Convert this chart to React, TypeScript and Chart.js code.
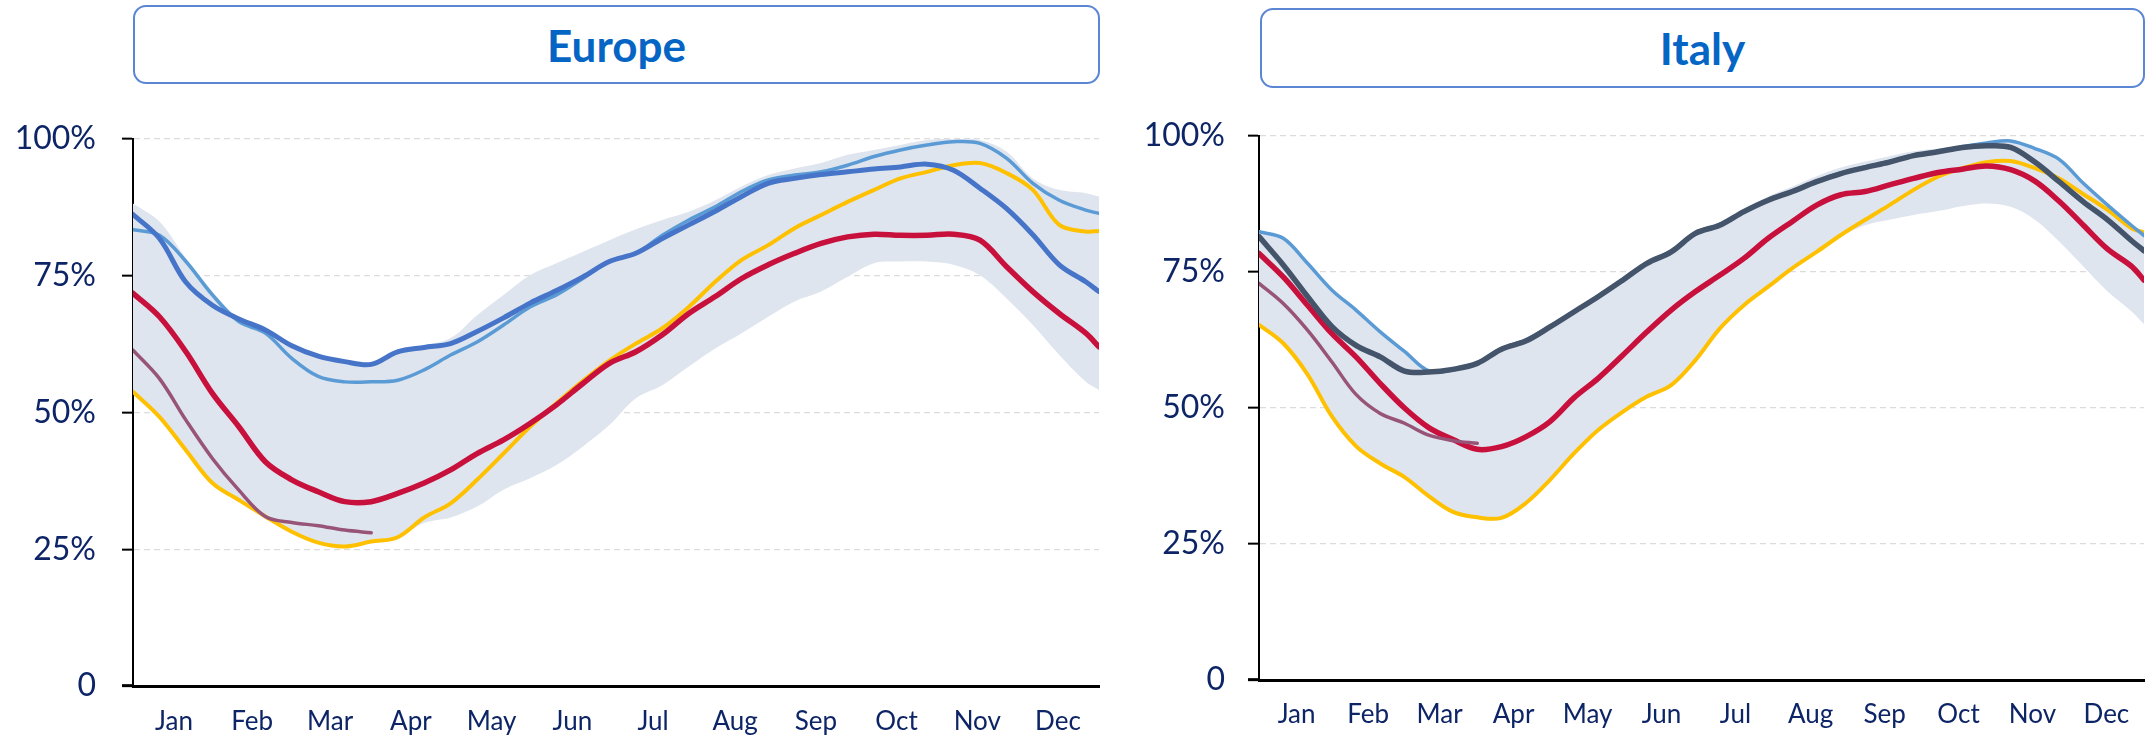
import React, { useEffect, useRef } from 'react';
import { Chart, registerables } from 'chart.js';

Chart.register(...registerables);

// ---------- shared axis data ----------
const DAYS = [0, 10, 20, 30, 40, 50, 60, 70, 80, 90, 100, 110, 120, 130, 140, 150, 160, 170, 180, 190,
  200, 210, 220, 230, 240, 250, 260, 270, 280, 290, 300, 310, 320, 330, 340, 350, 360, 365];
const MONTHS = ['Jan', 'Feb', 'Mar', 'Apr', 'May', 'Jun', 'Jul', 'Aug', 'Sep', 'Oct', 'Nov', 'Dec'];
const MONTH_MID = [15.5, 45, 74.5, 105, 135.5, 166, 196.5, 227.5, 258, 288.5, 319, 349.5];
const Y_TICKS = [0, 25, 50, 75, 100];

// ---------- Europe ----------
const euMax = [88.2, 84.9, 78.2, 72.1, 67.2, 65.1, 62.3, 60.5, 59.6, 59.2, 61.5, 62.3, 63.6, 67.8, 71.5, 75.1, 77.3, 79.4, 81.5, 83.5,
  85.2, 86.7, 88.8, 91.3, 93.4, 94.6, 95.6, 97.1, 98.0, 98.9, 99.8, 100.1, 99.8, 97.7, 92.8, 90.7, 90.1, 89.5];
const euMin = [53.6, 49.0, 42.9, 36.9, 33.8, 30.8, 28.0, 26.0, 25.3, 26.2, 27.2, 29.8, 30.8, 32.8, 35.9, 38.0, 40.4, 43.8, 47.7, 52.6,
  55.0, 58.4, 61.7, 64.5, 67.5, 70.3, 72.1, 74.8, 77.3, 77.6, 77.6, 77.0, 75.1, 70.9, 66.0, 60.5, 55.6, 54.1];
const euBlue = [86.2, 81.8, 73.8, 69.6, 67.1, 65.1, 62.2, 60.3, 59.3, 58.8, 61.1, 61.9, 62.6, 64.8, 67.3, 70.0, 72.3, 74.8, 77.6, 79.1,
  81.8, 84.3, 86.8, 89.5, 91.9, 92.8, 93.5, 94.0, 94.5, 94.9, 95.4, 94.3, 91.0, 87.3, 82.5, 77.0, 73.9, 72.1];
const euLightBlue = [83.4, 82.4, 77.6, 71.5, 66.6, 64.5, 59.9, 56.6, 55.6, 55.6, 55.9, 57.8, 60.5, 62.9, 66.0, 69.3, 71.5, 74.5, 77.6, 79.1,
  82.4, 85.2, 87.6, 90.4, 92.5, 93.4, 94.0, 95.2, 96.8, 98.0, 98.9, 99.5, 99.2, 96.5, 91.9, 88.8, 87.0, 86.4];
const euYellow = [53.8, 49.2, 43.1, 37.1, 34.0, 31.0, 28.2, 26.2, 25.5, 26.4, 27.2, 30.8, 33.4, 37.7, 42.5, 47.4, 51.7, 55.8, 59.5, 62.6,
  65.4, 69.3, 73.9, 77.9, 80.6, 83.7, 86.1, 88.5, 90.7, 92.8, 94.0, 95.2, 95.6, 93.8, 90.7, 84.3, 83.1, 83.2];
const euRed = [71.8, 67.5, 61.1, 53.5, 47.4, 41.0, 37.7, 35.5, 33.7, 33.7, 35.2, 37.1, 39.5, 42.5, 45.0, 48.0, 51.4, 55.3, 59.0, 61.1,
  64.2, 68.1, 71.2, 74.5, 77.0, 79.1, 80.9, 82.1, 82.6, 82.4, 82.4, 82.6, 81.5, 76.7, 72.1, 68.1, 64.5, 62.0];
const euMauve = [61.4, 56.2, 48.6, 41.6, 35.8, 31.0, 29.9, 29.3, 28.5, 28.0];

// ---------- Italy ----------
const itMax = [82.6, 81.4, 76.8, 72.0, 68.2, 64.3, 60.6, 57.2, 57.4, 58.6, 61.1, 62.7, 65.3, 68.1, 70.9, 73.9, 77.0, 79.2, 82.6, 84.2,
  86.7, 88.9, 90.7, 92.6, 94.2, 95.3, 96.3, 97.2, 97.7, 98.3, 98.8, 99.3, 97.9, 95.8, 91.6, 87.5, 83.8, 82.0];
const itMin = [65.0, 61.6, 55.9, 48.2, 42.7, 39.5, 37.0, 33.5, 30.6, 29.6, 29.5, 32.2, 36.5, 41.4, 45.7, 49.0, 51.8, 53.9, 58.5, 64.3,
  68.6, 72.0, 75.4, 78.4, 81.5, 83.6, 84.6, 85.5, 86.2, 87.1, 87.6, 87.0, 84.6, 80.6, 76.0, 71.4, 67.7, 65.4];
const itSlate = [81.5, 76.3, 70.5, 65.0, 61.5, 59.4, 56.8, 56.6, 57.1, 58.2, 60.8, 62.3, 64.9, 67.7, 70.5, 73.5, 76.6, 78.7, 82.1, 83.6,
  86.1, 88.2, 89.8, 91.6, 93.1, 94.2, 95.2, 96.4, 97.1, 97.9, 98.2, 97.9, 95.2, 91.6, 87.9, 84.6, 80.7, 78.9];
const itLightBlue = [82.4, 81.2, 76.6, 71.7, 68.0, 64.0, 60.4, 56.8, 57.0, 58.3, 60.9, 62.5, 65.0, 67.8, 70.6, 73.6, 76.7, 78.8, 82.2, 83.7,
  86.2, 88.3, 89.9, 91.7, 93.2, 94.3, 95.3, 96.5, 97.2, 98.0, 98.7, 99.1, 97.7, 95.7, 91.3, 87.3, 83.5, 81.7];
const itYellow = [65.3, 61.9, 56.2, 48.5, 43.0, 39.8, 37.3, 33.8, 30.9, 29.9, 29.8, 32.5, 36.8, 41.7, 46.0, 49.3, 52.1, 54.2, 58.8, 64.6,
  68.9, 72.3, 75.7, 78.7, 81.8, 84.6, 87.3, 90.1, 92.5, 94.1, 95.2, 95.4, 94.1, 92.2, 89.3, 86.4, 83.0, 82.3];
const itRed = [78.4, 74.1, 68.9, 63.7, 59.4, 54.5, 50.0, 46.4, 44.2, 42.4, 42.9, 44.7, 47.5, 51.9, 55.5, 59.7, 64.0, 68.0, 71.4, 74.4,
  77.5, 81.2, 84.3, 87.3, 89.2, 89.8, 91.0, 92.2, 93.3, 93.9, 94.5, 93.8, 91.7, 88.0, 83.6, 79.2, 76.0, 73.5];
const itMauve = [72.9, 69.2, 64.3, 58.5, 52.5, 49.0, 47.2, 45.0, 44.0, 43.5];

// ---------- styles ----------
const NAVY = '#0d2566';
const BAND = '#dfe5ef';
const C_RED = '#c8103d';
const C_BLUE = '#4674c8';
const C_LIGHT = '#5b9bd5';
const C_YELLOW = '#ffc000';
const C_MAUVE = '#985478';
const C_SLATE = '#44546a';
const FONT = 'Lato, "Open Sans", sans-serif';

type Line = { values: number[]; color: string; width: number };
type PanelDef = {
  lines: Line[];
  max: number[];
  min: number[];
  width: number;
  yAxisWidth: number;
  xAxisHeight: number;
  padTop: number;
  padRight: number;
  yPad: number;
  xPad: number;
};

const toPoints = (vals: number[]) => vals.map((v, i) => ({ x: DAYS[i], y: v }));

function buildConfig(p: PanelDef): any {
  const datasets: any[] = p.lines.map((l) => ({
    data: toPoints(l.values),
    borderColor: l.color,
    borderWidth: l.width,
    pointRadius: 0,
    fill: false,
    tension: 0.35,
    borderCapStyle: 'round',
    borderJoinStyle: 'round',
  }));
  datasets.push({
    data: toPoints(p.max),
    borderWidth: 0,
    borderColor: 'rgba(0,0,0,0)',
    backgroundColor: BAND,
    pointRadius: 0,
    fill: '+1',
    tension: 0.35,
  });
  datasets.push({
    data: toPoints(p.min),
    borderWidth: 0,
    borderColor: 'rgba(0,0,0,0)',
    pointRadius: 0,
    fill: false,
    tension: 0.35,
  });
  return {
    type: 'line',
    data: { datasets },
    options: {
      responsive: false,
      maintainAspectRatio: false,
      animation: false,
      devicePixelRatio: 1,
      layout: { padding: { left: 0, right: p.padRight, top: p.padTop, bottom: 0 } },
      plugins: { legend: { display: false }, tooltip: { enabled: false } },
      scales: {
        x: {
          type: 'linear',
          min: 0,
          max: 365,
          afterBuildTicks: (s: any) => {
            s.ticks = MONTH_MID.map((v) => ({ value: v }));
          },
          afterFit: (s: any) => {
            s.height = p.xAxisHeight;
          },
          ticks: {
            autoSkip: false,
            maxRotation: 0,
            padding: p.xPad,
            color: NAVY,
            font: { family: FONT, size: 26 },
            callback: (_v: any, i: number) => MONTHS[i],
          },
          grid: { drawOnChartArea: false, drawTicks: false },
          border: { display: true, color: '#000000', width: 3 },
        },
        y: {
          min: 0,
          max: 100,
          afterBuildTicks: (s: any) => {
            s.ticks = Y_TICKS.map((v) => ({ value: v }));
          },
          afterFit: (s: any) => {
            s.width = p.yAxisWidth;
          },
          ticks: {
            padding: p.yPad,
            color: NAVY,
            font: { family: FONT, size: 32 },
            callback: (v: any) => (v === 0 ? '0' : v + '%'),
          },
          grid: {
            color: (c: any) => (c.tick && c.tick.value === 0 ? 'rgba(0,0,0,0)' : '#dcdcdc'),
            lineWidth: 1.3,
            tickLength: 11,
            tickColor: '#000000',
            tickWidth: (c: any) => (c.tick && c.tick.value === 0 ? 3 : 2),
            tickBorderDash: [],
          },
          border: { display: true, color: '#000000', width: 2, dash: [6, 4] },
        },
      },
    },
  };
}

const EUROPE: PanelDef = {
  lines: [
    { values: euRed, color: C_RED, width: 5.5 },
    { values: euBlue, color: C_BLUE, width: 5 },
    { values: euLightBlue, color: C_LIGHT, width: 3.5 },
    { values: euMauve, color: C_MAUVE, width: 3.5 },
    { values: euYellow, color: C_YELLOW, width: 4 },
  ],
  max: euMax,
  min: euMin,
  width: 1110,
  yAxisWidth: 133,
  xAxisHeight: 55,
  padTop: 139,
  padRight: 11,
  yPad: 26,
  xPad: 20,
};

const ITALY: PanelDef = {
  lines: [
    { values: itSlate, color: C_SLATE, width: 5.5 },
    { values: itMauve, color: C_MAUVE, width: 3.5 },
    { values: itRed, color: C_RED, width: 5.5 },
    { values: itLightBlue, color: C_LIGHT, width: 3.5 },
    { values: itYellow, color: C_YELLOW, width: 4 },
  ],
  max: itMax,
  min: itMin,
  width: 1042,
  yAxisWidth: 149,
  xAxisHeight: 61,
  padTop: 136,
  padRight: 8,
  yPad: 23,
  xPad: 19,
};

function Panel({ def, left }: { def: PanelDef; left: number }) {
  const ref = useRef<HTMLCanvasElement>(null);
  useEffect(() => {
    const chart = new Chart(ref.current as HTMLCanvasElement, buildConfig(def));
    return () => chart.destroy();
  }, []);
  return (
    <canvas
      ref={ref}
      width={def.width}
      height={741}
      style={{ position: 'absolute', left, top: 0, width: def.width, height: 741 }}
    />
  );
}

function TitleBox({ text, left, top, width, height }: { text: string; left: number; top: number; width: number; height: number }) {
  return (
    <div
      style={{
        position: 'absolute',
        left,
        top,
        width,
        height,
        boxSizing: 'border-box',
        border: '2px solid #5a86d4',
        borderRadius: 13,
        display: 'flex',
        alignItems: 'center',
        justifyContent: 'center',
        fontFamily: FONT,
        fontWeight: 700,
        fontSize: 44,
        color: '#0565c4',
        background: '#ffffff',
      }}
    >
      {text}
    </div>
  );
}

export default function App() {
  return (
    <div style={{ position: 'fixed', left: 0, top: 0, width: 2152, height: 741, background: '#ffffff', overflow: 'hidden' }}>
      <Panel def={EUROPE} left={0} />
      <Panel def={ITALY} left={1110} />
      <TitleBox text="Europe" left={133} top={5} width={967} height={79} />
      <TitleBox text="Italy" left={1260} top={8} width={885} height={80} />
    </div>
  );
}
